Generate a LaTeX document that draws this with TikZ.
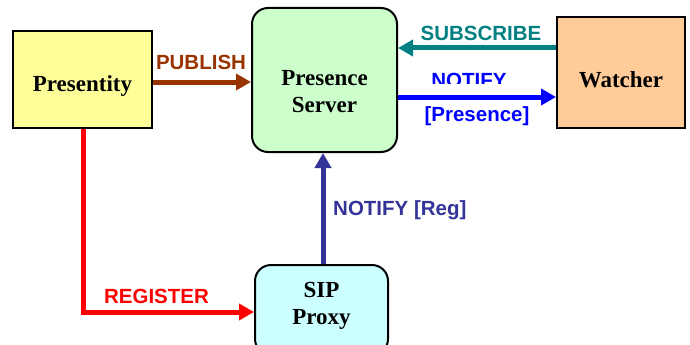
\documentclass[tikz,border=0pt]{standalone}
\usepackage{fontspec}
\setmainfont{Liberation Serif}
\setsansfont{Liberation Sans}
\usetikzlibrary{arrows.meta}
\definecolor{cpres}{HTML}{FFFF99}
\definecolor{cserv}{HTML}{CCFFCC}
\definecolor{cwatch}{HTML}{FFCC99}
\definecolor{cproxy}{HTML}{CCFFFF}
\definecolor{cpub}{HTML}{993300}
\definecolor{csub}{HTML}{008080}
\definecolor{creg}{HTML}{333399}
\tikzset{
  box/.style={draw=black, line width=2pt, inner sep=0pt},
  sqbox/.style={box},
  rbox/.style={box, rounded corners=16pt},
  boxtxt/.style={inner sep=0pt, align=center, font=\fontsize{23}{27}\selectfont\bfseries},
  lbl/.style={inner sep=0pt, font=\fontsize{20.5}{24}\selectfont\sffamily\bfseries},
  arr/.style={line width=5pt, -{Triangle[length=15pt,width=16pt]}},
}
\begin{document}
\begin{tikzpicture}[x=1pt,y=-1pt]
\useasboundingbox (0,0) rectangle (690,345);
\clip (0,0) rectangle (690,345);
% boxes
\node[sqbox, fill=cpres, minimum width=139pt, minimum height=97pt] (presentity) at (82.5,79.5) {};
\node[rbox, fill=cserv, minimum width=145pt, minimum height=144pt] (server) at (324.5,80) {};
\node[sqbox, fill=cwatch, minimum width=128pt, minimum height=111pt] (watcher) at (621,72.5) {};
\node[rbox, fill=cproxy, minimum width=133pt, minimum height=90pt] (proxy) at (321.5,310) {};
% box texts
\node[boxtxt, anchor=base] (presentityT) at (82.5,91) {Presentity};
\node[boxtxt] (serverT) at (324.5,92) {Presence\\Server};
\node[boxtxt, anchor=base] (watcherT) at (621,87) {Watcher};
\node[boxtxt] (proxyT) at (321.5,306) {SIP\\Proxy};
% connectors
\draw[arr, cpub] (presentity.east |- 0,82) -- (server.west |- 0,82);
\draw[arr, csub] (watcher.west |- 0,48) -- (server.east |- 0,48);
\draw[arr, blue] (server.east |- 0,97) -- (watcher.west |- 0,97);
\draw[arr, creg] (proxy.north -| 323,0) -- (server.south -| 323,0);
\draw[arr, red] (presentity.south -| 83,0) |- (proxy.west |- 0,312);
% labels
\node[lbl, cpub, anchor=base] (lpub) at (201,70) {PUBLISH};
\node[lbl, csub, anchor=base] (lsub) at (481,41) {SUBSCRIBE};
\begin{scope}
  \clip (400,60) rectangle (545,83.5);
  \node[lbl, blue, anchor=base] (lnot) at (469,87) {NOTIFY};
\end{scope}
\node[lbl, blue, anchor=base] (lpresence) at (477,121) {[Presence]};
\node[lbl, creg, anchor=base west] (lnotreg) at (333,215) {NOTIFY [Reg]};
\node[lbl, red, anchor=base] (lreg) at (156.5,303) {REGISTER};
\end{tikzpicture}
\end{document}
